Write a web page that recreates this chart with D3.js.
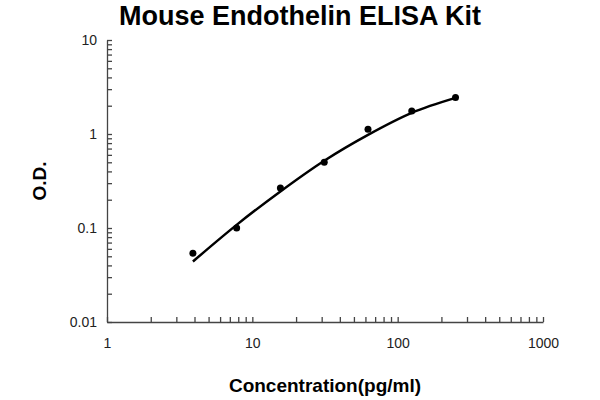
<html>
<head>
<style>
  body { margin: 0; background: #fff; font-family: Arial, 'Liberation Sans', sans-serif; }
</style>
</head>
<body>
<svg id="chart" width="600" height="400"></svg>
<script src="https://d3js.org/d3.v7.min.js"></script>
<script>
'use strict';

var conc = [3.9, 7.8, 15.6, 31.25, 62.5, 125, 250];
var od = [0.054, 0.1, 0.267, 0.5, 1.12, 1.76, 2.45];
var fitOd = [0.044, 0.108, 0.245, 0.52, 0.98, 1.68, 2.42];
var xTicks = [1, 10, 100, 1000];
var yTicks = [0.01, 0.1, 1, 10];

var svg = d3.select('#chart');
var x = d3.scaleLog().domain([1, 1000]).range([107, 543]);
var y = d3.scaleLog().domain([0.01, 10]).range([322, 40]);

svg.append('text').attr('x', 300).attr('y', 25).attr('text-anchor', 'middle')
  .attr('font-size', 27).attr('font-weight', 'bold').text('Mouse Endothelin ELISA Kit');

// minor ticks, pointing into the plot
svg.append('g').attr('transform', 'translate(0,322)')
  .call(d3.axisTop(x).ticks(10).tickFormat('').tickSize(5))
  .call(g => g.select('.domain').remove());
svg.append('g').attr('transform', 'translate(107,0)')
  .call(d3.axisRight(y).ticks(10).tickFormat('').tickSize(5))
  .call(g => g.select('.domain').remove());

svg.append('g').attr('transform', 'translate(0,322)')
  .call(d3.axisBottom(x).tickValues(xTicks).tickFormat(d3.format('d')).tickSize(0).tickPadding(16))
  .call(g => g.selectAll('text').attr('font-size', 14).attr('fill', '#222'));

svg.append('g').attr('transform', 'translate(107,0)')
  .call(d3.axisLeft(y).tickValues(yTicks).tickFormat(d => String(d)).tickSize(0).tickPadding(10))
  .call(g => g.selectAll('text').attr('font-size', 14).attr('fill', '#222'));

svg.selectAll('.domain, .tick line').attr('stroke', '#444').attr('stroke-width', 1.3);

svg.append('text').attr('transform', 'translate(46,181) rotate(-90)').attr('text-anchor', 'middle')
  .attr('font-size', 19).attr('font-weight', 'bold').text('O.D.');
svg.append('text').attr('x', 325).attr('y', 392).attr('text-anchor', 'middle')
  .attr('font-size', 19).attr('font-weight', 'bold').text('Concentration(pg/ml)');

var line = d3.line().x((d, i) => x(conc[i])).y(d => y(d)).curve(d3.curveMonotoneX);
svg.append('path').datum(fitOd).attr('d', line).attr('fill', 'none')
  .attr('stroke', '#000').attr('stroke-width', 2.5);

svg.selectAll('circle.pt').data(od).enter().append('circle')
  .attr('cx', (d, i) => x(conc[i])).attr('cy', d => y(d)).attr('r', 3.5).attr('fill', '#000');
</script>
</body>
</html>
